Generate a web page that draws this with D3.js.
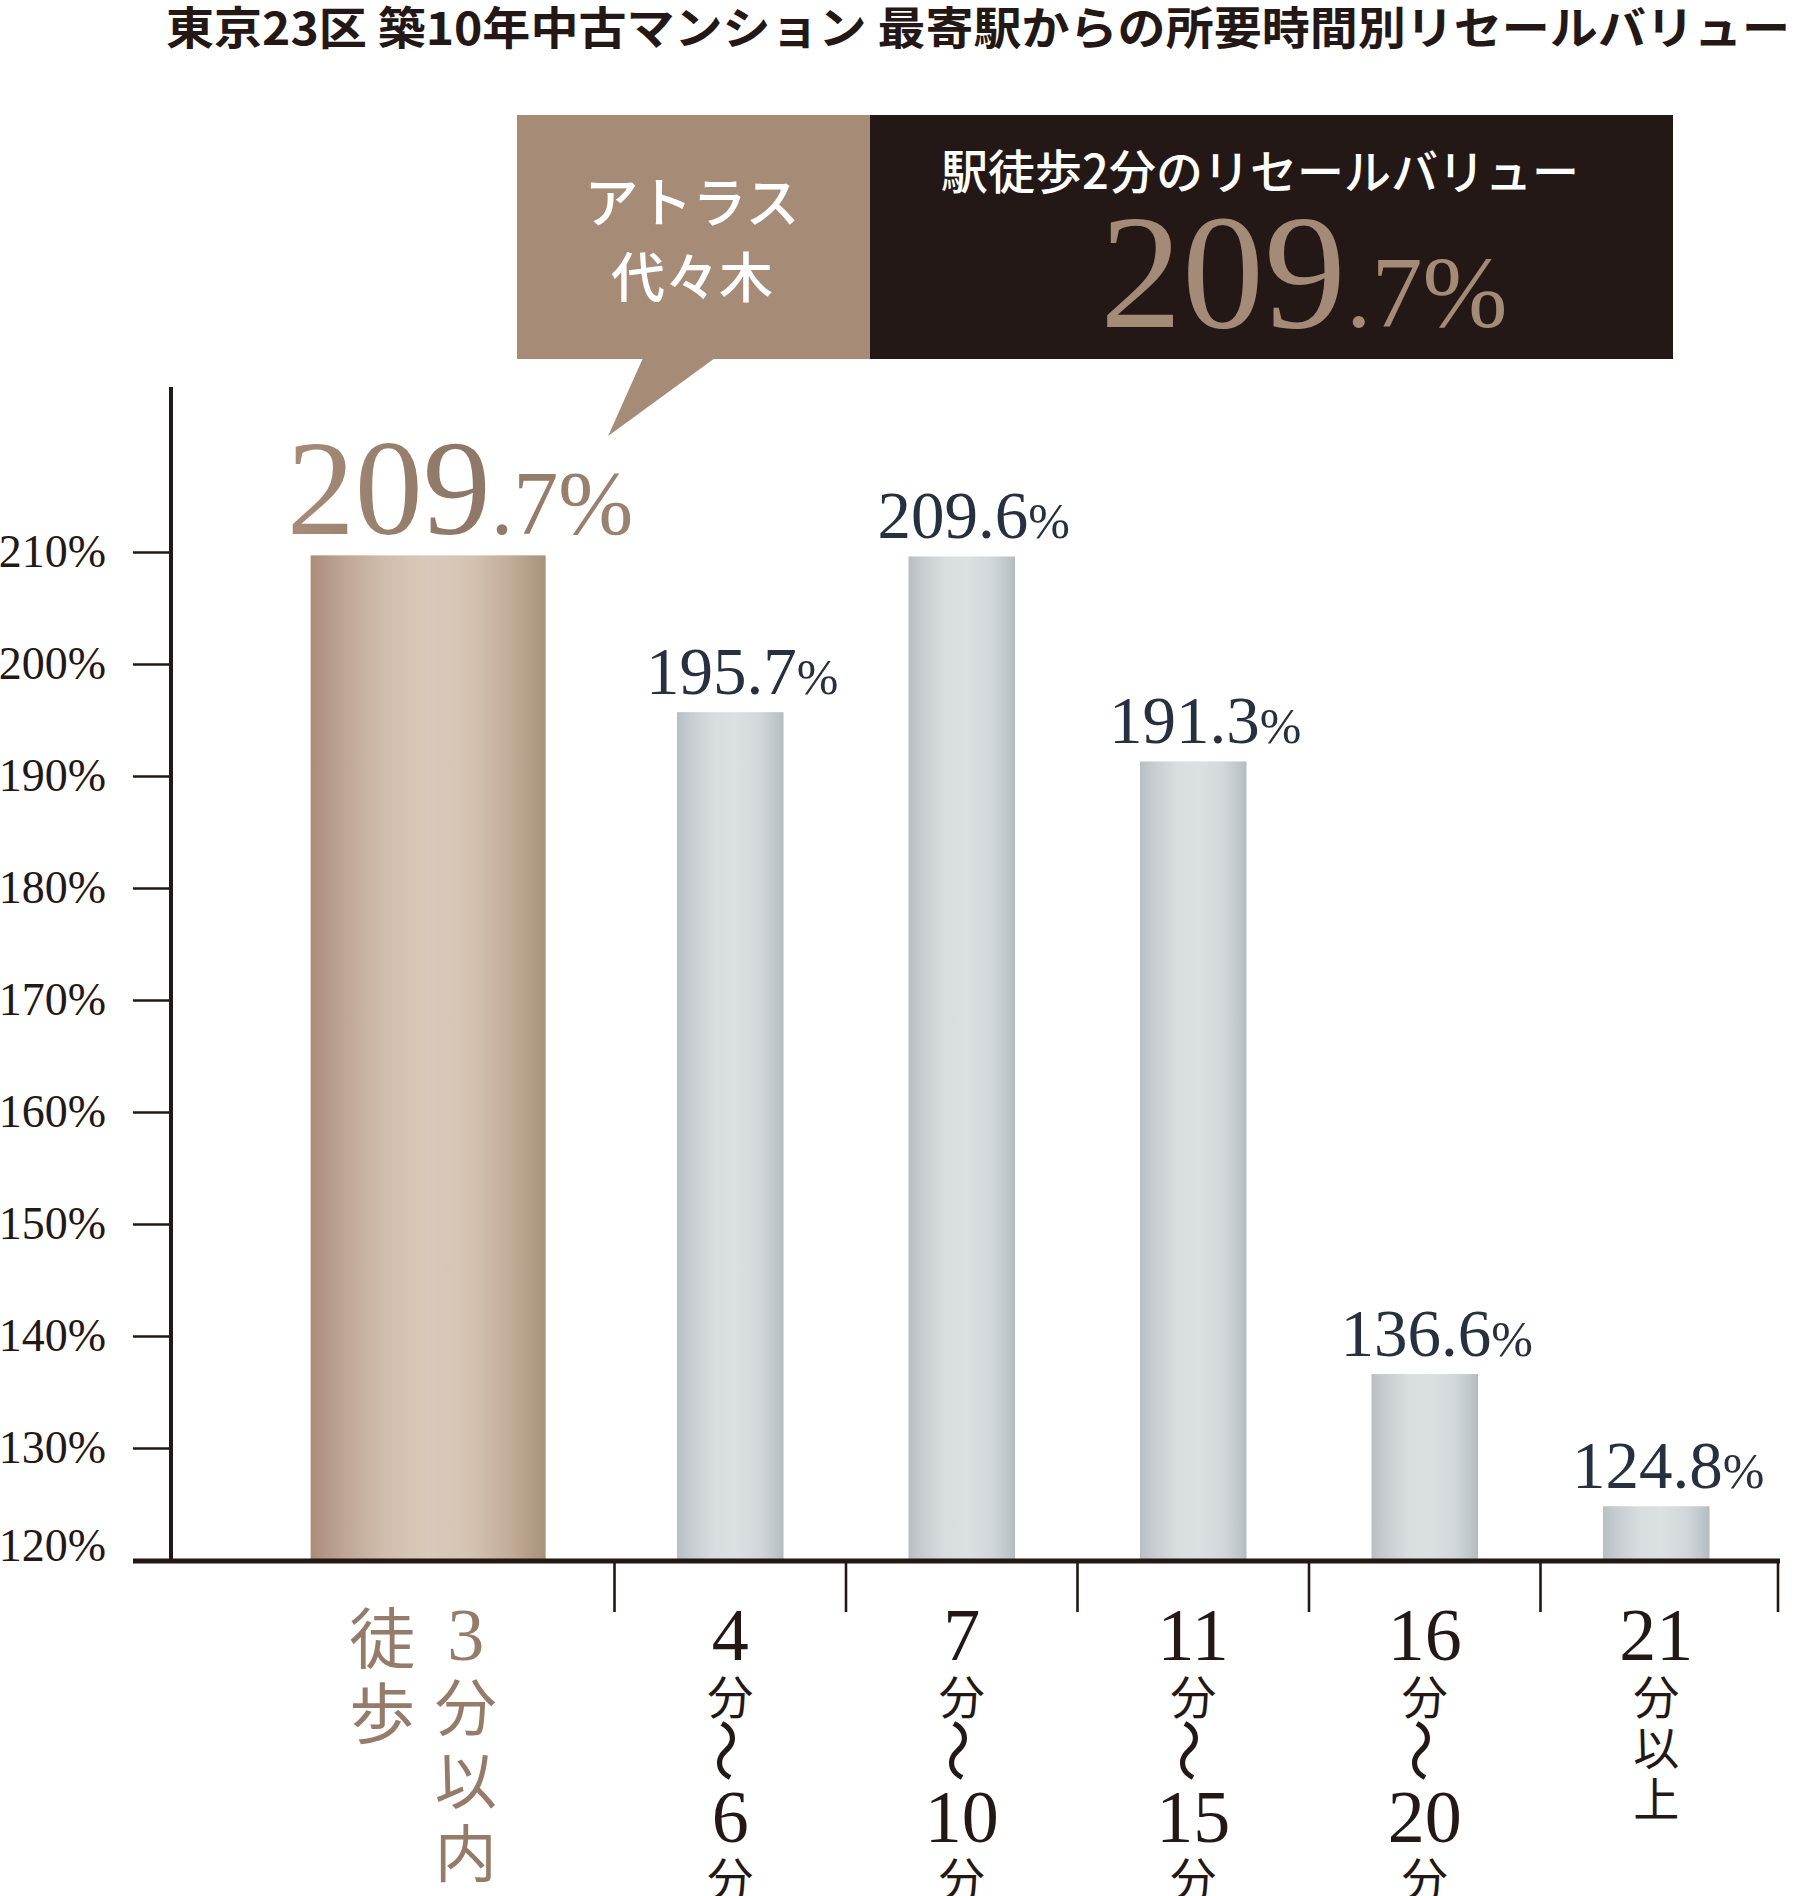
<!DOCTYPE html>
<html>
<head>
<meta charset="utf-8">
<script src="https://cdn.jsdelivr.net/npm/d3@7"></script>
<style>
  html, body { margin: 0; padding: 0; background: #ffffff; }
  svg { display: block; }
</style>
</head>
<body>
<svg id="chart" width="1803" height="1896"></svg>
<script>
// ---------------- DATA ----------------
const title = "東京23区 築10年中古マンション 最寄駅からの所要時間別リセールバリュー";
const categories = ["徒歩3分以内", "4分〜6分", "7分〜10分", "11分〜15分", "16分〜20分", "21分以上"];
const values = [209.7, 195.7, 209.6, 191.3, 136.6, 124.8];
const yTicks = [120, 130, 140, 150, 160, 170, 180, 190, 200, 210];
const yDomain = [120, 210];
const highlightIndex = 0;
// vertical tick-label pieces for each category (written top to bottom)
const tickLabelPieces = [
  [["徒", "歩"], ["3", "分", "以", "内"]],
  [["4", "分", "〜", "6", "分"]],
  [["7", "分", "〜", "10", "分"]],
  [["11", "分", "〜", "15", "分"]],
  [["16", "分", "〜", "20", "分"]],
  [["21", "分", "以", "上"]]
];
const calloutName = ["アトラス", "代々木"];
const calloutHeading = "駅徒歩2分のリセールバリュー";

// ---------------- STYLE ----------------
const SERIF = "'Liberation Serif', 'DejaVu Serif', serif";
const CJK = "'Noto Sans CJK JP', 'Noto Sans', sans-serif";
const INK = "#231815";
const NAVY = "#27303f";
const BROWN = "#957b69";
const BROWN_BOX = "#a68b76";

const svg = d3.select("#chart");
const defs = svg.append("defs");

function hGradient(id, stops) {
  const g = defs.append("linearGradient").attr("id", id)
    .attr("x1", "0%").attr("x2", "100%").attr("y1", "0%").attr("y2", "0%");
  stops.forEach(([o, c]) => g.append("stop").attr("offset", o).attr("stop-color", c));
}
hGradient("grayBar", [["0%", "#b8bfc3"], ["12%", "#c6cccf"], ["35%", "#d8dde0"], ["55%", "#dbe0e3"], ["78%", "#d1d7da"], ["92%", "#c1c8cb"], ["100%", "#b4bbbf"]]);
hGradient("brownBar", [["0%", "#aa8c78"], ["12%", "#bca291"], ["30%", "#d0bcab"], ["50%", "#dac9ba"], ["68%", "#d5c3b2"], ["85%", "#c2ac97"], ["100%", "#a8927b"]]);
hGradient("bigNum", [["0%", "#a68c78"], ["50%", "#8f7767"], ["100%", "#9c8371"]]);

// ---------------- SCALES ----------------
const y = d3.scaleLinear().domain(yDomain).range([1560, 552]);
const x = d3.scaleBand().domain(categories).range([383, 1772]);
const step = x.step();
const barW = step * 0.46;
const featuredW = step * 1.015;
const featuredShift = -step * 0.305;

function barCenter(i) {
  const c = categories[i];
  return x(c) + step / 2 + (i === highlightIndex ? featuredShift : 0);
}
function barWidth(i) { return i === highlightIndex ? featuredW : barW; }

// ---------------- TITLE ----------------
svg.append("text")
  .attr("x", 166).attr("y", 45)
  .attr("textLength", 1624).attr("lengthAdjust", "spacingAndGlyphs")
  .style("font-family", CJK).style("font-weight", 700).style("font-size", "45px")
  .style("fill", INK)
  .text(title);

// ---------------- BARS ----------------
svg.append("g").selectAll("rect").data(values).join("rect")
  .attr("x", (d, i) => barCenter(i) - barWidth(i) / 2)
  .attr("width", (d, i) => barWidth(i))
  .attr("y", d => y(d))
  .attr("height", d => y(yDomain[0]) - y(d))
  .attr("fill", (d, i) => i === highlightIndex ? "url(#brownBar)" : "url(#grayBar)");

// ---------------- Y AXIS ----------------
const yAxisG = svg.append("g").attr("transform", "translate(171,0)")
  .call(d3.axisLeft(y).tickValues(yTicks).tickSize(38).tickPadding(27).tickFormat(d => d + "%"));
yAxisG.select(".domain").remove();
yAxisG.selectAll(".tick line").attr("stroke", INK).attr("stroke-width", 2.6);
yAxisG.selectAll(".tick text")
  .style("font-family", SERIF).style("font-size", "46px").style("fill", INK)
  .filter(d => d === yDomain[0]).attr("dy", "0.02em");
// vertical axis line
svg.append("line").attr("x1", 171).attr("x2", 171).attr("y1", 387).attr("y2", y(yDomain[0]) + 2)
  .attr("stroke", INK).attr("stroke-width", 4);

// ---------------- X AXIS ----------------
const baseY = y(yDomain[0]) + 1;
svg.append("line").attr("x1", 133).attr("x2", x.range()[1] + 8).attr("y1", baseY).attr("y2", baseY)
  .attr("stroke", INK).attr("stroke-width", 5);
const sepXs = categories.slice(1).map(c => x(c)).concat([x.range()[1] + 6]);
svg.append("g").selectAll("line").data(sepXs).join("line")
  .attr("x1", d => d).attr("x2", d => d).attr("y1", baseY).attr("y2", 1612)
  .attr("stroke", INK).attr("stroke-width", 2.6);

// vertical stacked tick labels
function stackVertical(g, pieces, cx, top, o, color) {
  let yy = top;
  pieces.forEach(p => {
    if (/^\d+$/.test(p)) {
      g.append("text").attr("x", cx).attr("y", yy + o.numH).attr("text-anchor", "middle")
        .style("font-family", SERIF).style("font-size", o.numSize + "px").style("fill", color).text(p);
      yy += o.numAdv;
    } else if (p === "〜") {
      g.append("text").attr("transform", `translate(${cx},${yy + o.waveH / 2}) rotate(90)`)
        .attr("text-anchor", "middle").attr("dominant-baseline", "central")
        .style("font-family", CJK).style("font-weight", 400).style("font-size", o.waveSize + "px")
        .style("fill", color).text(p);
      yy += o.waveAdv;
    } else {
      g.append("text").attr("x", cx).attr("y", yy + o.cjkH / 2).attr("text-anchor", "middle")
        .attr("dominant-baseline", "central")
        .style("font-family", CJK).style("font-size", o.cjkSize + "px").style("fill", color).text(p);
      yy += o.cjkAdv;
    }
  });
}
const normalOpt = { numSize: 74, numH: 50, numAdv: 62, cjkSize: 46, cjkH: 43, cjkAdv: 51, waveSize: 64, waveH: 55, waveAdv: 69 };
const featColOpt = [
  { numSize: 74, numH: 50, numAdv: 64, cjkSize: 66, cjkH: 62, cjkAdv: 75 },
  { numSize: 74, numH: 50, numAdv: 64, cjkSize: 62, cjkH: 59, cjkAdv: 73 }
];
const xLabG = svg.append("g");
tickLabelPieces.forEach((cols, i) => {
  const cx = barCenter(i);
  if (i === highlightIndex) {
    const offs = [-46, 37.5];
    const tops = [1603, 1610];
    cols.forEach((col, k) => stackVertical(xLabG, col, cx + offs[k], tops[k], featColOpt[k], BROWN));
  } else {
    stackVertical(xLabG, cols[0], cx, 1610, normalOpt, INK);
  }
});

// ---------------- VALUE LABELS ----------------
const valG = svg.append("g");
values.forEach((v, i) => {
  const cx = barCenter(i);
  const str = v.toFixed(1);
  if (i === highlightIndex) {
    const parts = str.split(".");
    const t = valG.append("text").attr("y", y(v) - 21)
      .style("font-family", SERIF).style("fill", "url(#bigNum)");
    t.append("tspan").style("font-size", "136px").text(parts[0]);
    t.append("tspan").style("font-size", "90px").text("." + parts[1] + "%");
    t.attr("x", cx - barWidth(i) / 2 - 24);
  } else {
    const t = valG.append("text").attr("y", y(v) - 18)
      .attr("x", cx + 12).attr("text-anchor", "middle")
      .style("font-family", SERIF).style("fill", NAVY);
    t.append("tspan").style("font-size", "67px").text(str);
    t.append("tspan").style("font-size", "50px").text("%");
  }
});

// ---------------- CALLOUT ----------------
const co = svg.append("g");
const hx = barCenter(highlightIndex);
co.append("rect").attr("x", 517).attr("y", 115).attr("width", 353).attr("height", 244).attr("fill", BROWN_BOX);
co.append("rect").attr("x", 870).attr("y", 115).attr("width", 803).attr("height", 244).attr("fill", INK);
co.append("path").attr("d", `M643,358 L715,358 L${hx + 180},436 Z`).attr("fill", BROWN_BOX);
calloutName.forEach((s, k) => {
  co.append("text").attr("x", 692).attr("y", 223 + k * 75).attr("text-anchor", "middle")
    .style("font-family", CJK).style("font-weight", 500).style("font-size", "54px").style("fill", "#ffffff").text(s);
});
co.append("text").attr("x", 1260).attr("y", 189).attr("text-anchor", "middle")
  .style("font-family", CJK).style("font-weight", 500).style("font-size", "47px").style("fill", "#ffffff").text(calloutHeading);
{
  const v = values[highlightIndex].toFixed(1).split(".");
  const t = co.append("text").attr("x", 1100).attr("y", 327)
    .style("font-family", SERIF).style("fill", "#a38b77");
  t.append("tspan").style("font-size", "164px").text(v[0]);
  t.append("tspan").style("font-size", "102px").text("." + v[1] + "%");
}
</script>
</body>
</html>
